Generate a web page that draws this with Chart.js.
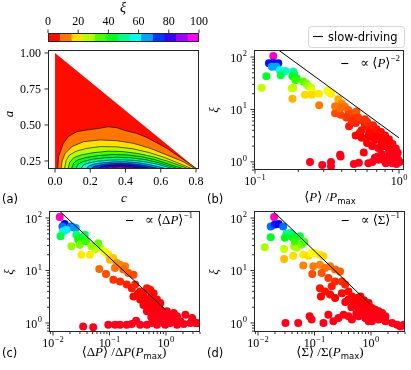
<!DOCTYPE html>
<html><head><meta charset="utf-8">
<script src="https://cdn.jsdelivr.net/npm/chart.js@4/dist/chart.umd.min.js"></script>
<style>
html,body{margin:0;padding:0;background:#fff;}
#wrap{position:relative;width:411px;height:370px;overflow:hidden;background:#fff;}
#wrap canvas{position:absolute;left:0;top:0;}
</style></head><body>
<div id="wrap">
<canvas id="cA" width="411" height="370"></canvas>
<canvas id="cBar" width="411" height="370"></canvas>
<canvas id="cB" width="411" height="370"></canvas>
<canvas id="cC" width="411" height="370"></canvas>
<canvas id="cD" width="411" height="370"></canvas>
</div>
<script>
// ---------------- data ----------------
const xiLevels = [0,7.7,15.4,23.1,30.8,38.5,46.2,53.8,61.5,69.2,76.9,84.6,92.3,100];
const cbarTicks = [0,20,40,60,80,100];
const aXTicks = [0,0.2,0.4,0.6,0.8];
const aXLabels = ['0.0','0.2','0.4','0.6','0.8'];
const aYTicks = [0.25,0.5,0.75,1.0];
const aYLabels = ['0.25','0.50','0.75','1.00'];
const domainEdge = [[0,1.0],[0.8,0.2]];
const contourCurves = [
 [[.015,.2],[.02,.28],[.047,.373],[.076,.42],[.123,.453],[.18,.465],[.255,.477],[.30,.488],[.35,.481],[.407,.458],[.463,.442],[.52,.414],[.577,.377],[.634,.338],[.69,.292],[.747,.245],[.80,.2]],
 [[.035,.2],[.04,.25],[.057,.303],[.095,.349],[.161,.384],[.255,.396],[.35,.391],[.444,.373],[.539,.338],[.634,.292],[.728,.245],[.79,.2]],
 [[.055,.2],[.062,.25],[.08,.29],[.12,.318],[.18,.338],[.26,.35],[.35,.348],[.44,.335],[.53,.31],[.62,.275],[.70,.235],[.77,.2]],
 [[.075,.2],[.083,.24],[.105,.272],[.15,.293],[.22,.308],[.30,.318],[.38,.316],[.47,.302],[.56,.278],[.64,.248],[.70,.222],[.75,.2]],
 [[.095,.2],[.105,.235],[.13,.258],[.18,.275],[.25,.288],[.33,.295],[.41,.292],[.49,.28],[.57,.258],[.64,.23],[.72,.2]],
 [[.12,.2],[.13,.228],[.16,.246],[.21,.262],[.28,.272],[.35,.276],[.43,.272],[.51,.26],[.58,.24],[.64,.218],[.69,.2]],
 [[.15,.2],[.16,.222],[.19,.236],[.24,.248],[.31,.256],[.38,.258],[.45,.254],[.52,.243],[.58,.228],[.66,.2]],
 [[.18,.2],[.19,.216],[.22,.228],[.27,.238],[.33,.244],[.40,.245],[.47,.238],[.54,.224],[.62,.2]],
 [[.21,.2],[.22,.212],[.26,.223],[.31,.231],[.37,.234],[.43,.231],[.50,.22],[.58,.2]],
 [[.25,.2],[.26,.21],[.30,.218],[.35,.224],[.41,.222],[.47,.212],[.53,.2]],
 [[.29,.2],[.30,.207],[.34,.213],[.39,.214],[.44,.207],[.48,.2]],
 [[.32,.2],[.335,.205],[.37,.208],[.40,.205],[.43,.2]]
];
const logMajor = [0.01,0.1,1,10,100];
const logExp = ['−2','−1','0','1','2'];
const logMinor = [0.007,0.008,0.009,0.02,0.03,0.04,0.05,0.06,0.07,0.08,0.09,0.2,0.3,0.4,0.5,0.6,0.7,0.8,0.9,2,3,4,5,6,7,8,9,20,30,40,50,60,70,80,90];
// panel (b): [<P>/Pmax, xi]
const panelB = [[0.134,104],[0.125,76],[0.134,78],[0.145,76],[0.131,65],[0.141,65],[0.149,56],[0.163,54],[0.120,43],[0.151,45],
[0.184,53],[0.187,48],[0.182,43],[0.195,39],[0.191,36],[0.180,25],[0.184,26],[0.111,26],[0.216,34],[0.228,31],
[0.234,28],[0.245,26],[0.248,23],[0.222,19],[0.248,19],[0.278,20],[0.319,23],[0.337,20],[0.327,21],[0.182,16],
[0.279,12],[0.379,15.6],[0.400,13.1],[0.421,11.3],[0.390,11.0],[0.444,9.8],[0.481,8.5],[0.506,9.1],[0.393,7.9],[0.444,7.9],
[0.494,6.8],[0.548,6.3],[0.581,5.5],[0.613,4.7],[0.646,4.4],[0.681,3.8],[0.718,3.5],[0.535,3.6],[0.613,3.1],[0.581,5.1],
[0.757,3.0],[0.799,2.6],[0.840,2.25],[0.889,1.96],[0.935,1.46],[0.960,1.26],[0.989,1.09],[1.01,1.0],[0.865,1.46],[0.82,1.26],
[0.757,1.96],[0.718,1.83],[0.681,2.6],[0.646,3.0],
[0.66,5.0],[0.70,4.2],[0.75,3.7],[0.80,3.2],[0.85,2.7],[0.90,2.2],[0.95,1.8],[0.98,1.5],[0.70,2.9],[0.75,2.5],
[0.80,2.0],[0.85,1.7],[0.90,1.5],[0.95,1.2],[0.92,1.05],[0.85,1.1],[0.78,1.1],[0.72,1.1],[0.68,1.2],[0.60,2.3],
[0.65,2.0],[0.55,2.9],[0.50,3.2],[0.45,4.8],[0.50,5.5],[0.55,4.0],[0.62,3.5],[0.60,5.8],[0.52,7.0],[0.58,6.5],
[0.47,6.0],[0.43,7.0],[0.36,8.5],[0.39,10.5],[0.36,11.5],
[0.241,1.0],[0.293,0.87],[0.337,1.0],[0.337,0.82],[0.390,1.36],[0.393,1.26],[0.486,0.91],[0.526,0.96],[0.569,1.51],[0.613,0.94],
[0.653,1.0],[0.711,1.26],[0.757,1.42],[0.809,0.94],[0.872,1.26],[0.90,0.94],[0.96,0.91]];
// panel (c): [<dP>/dP(Pmax), xi]
const panelC = [[0.01315,104],[0.0161,77],[0.0206,69],[0.0254,64.5],[0.0233,66],[0.0147,69],[0.0151,56],[0.0173,60],[0.0136,45],[0.026,48],
[0.0319,42],[0.0279,39],[0.0366,48],[0.0212,29],[0.0298,31],[0.0382,36],[0.0319,20],[0.045,20],[0.0552,25],[0.0481,29],
[0.0677,27],[0.0633,33],[0.0891,21.5],[0.0953,20],[0.0798,23],[0.0659,10.7],[0.0867,8.6],[0.102,16],[0.117,17.3],[0.134,13.9],
[0.154,12.9],[0.189,12],[0.176,10.4],[0.125,11.2],[0.216,9.0],[0.266,8.3],[0.117,6.7],[0.154,6.2],[0.202,5.4],[0.248,4.6],
[0.284,5.4],[0.349,4.0],[0.40,3.5],[0.459,4.6],[0.526,4.3],[0.603,3.7],[0.691,2.8],[0.792,2.4],[0.40,2.2],[0.349,2.8],
[0.266,3.2],[0.491,2.8],[0.563,2.2],[0.645,1.93],[0.792,1.79],[0.908,1.55],[1.04,1.34],[0.459,1.67],[0.603,1.44],[0.74,1.34],
[0.908,1.24],[1.04,1.67],[1.19,1.24],[1.37,1.55],[1.57,1.34],[1.8,1.08],[2.21,1.44],[2.9,1.24],[3.56,1.0],[1.47,1.08],
[1.115,1.08],[0.792,1.08],[0.691,1.24],
[0.55,3.2],[0.65,2.5],[0.75,2.1],[0.6,1.8],[0.7,1.6],[0.85,1.4],[0.5,2.0],[0.45,2.5],[0.38,3.0],[0.32,3.6],[0.95,1.1],[0.8,1.2],[0.9,1.0],[0.55,1.3],
[0.0342,0.86],[0.0515,0.83],[0.0953,0.93],[0.125,0.93],[0.154,0.93],[0.202,0.93],[0.248,0.96],[0.296,1.11],[0.349,0.93],[0.459,0.93],
[0.563,1.0],[0.691,0.93],[0.972,0.93],[1.19,1.0],[1.57,0.93],[2.06,0.96],[2.71,1.0],[3.33,1.0]];
// panel (d): [<Sigma>/Sigma(Pmax), xi]
const panelD = [[0.0193,104],[0.0168,69],[0.0198,75],[0.0233,77],[0.0279,69],[0.0366,52],[0.0403,48],[0.0319,50],[0.0168,43],[0.0298,42],
[0.0403,43],[0.0552,45],[0.0132,27.6],[0.029,25.7],[0.0437,29],[0.0481,27],[0.0591,31],[0.045,36],[0.0659,35],[0.042,19.2],
[0.0633,20],[0.0777,19.2],[0.0891,21.5],[0.102,21.5],[0.125,20],[0.144,18.6],[0.029,16.6],[0.0633,12.4],[0.0953,12],[0.125,12.9],
[0.154,11.2],[0.189,12],[0.232,10.4],[0.284,9.6],[0.0915,8.6],[0.134,9.0],[0.176,7.2],[0.232,6.2],[0.305,6.2],[0.349,5.4],
[0.202,5.0],[0.125,4.6],[0.154,4.0],[0.13,3.2],[0.189,3.5],[0.232,3.0],[0.305,3.7],[0.40,4.0],[0.459,3.2],[0.563,3.0],
[0.645,2.6],[0.74,2.2],[0.908,2.4],[1.04,1.93],[1.19,1.79],[1.37,1.67],[1.57,1.55],[1.8,1.34],[0.603,1.67],[0.40,2.8],
[0.5,2.5],[0.6,2.0],[0.7,1.8],[0.8,1.9],[0.9,1.6],[0.55,1.5],[0.35,2.5],[0.45,2.0],[1.0,1.5],[1.2,1.3],[0.65,3.2],[0.75,2.7],
[0.0307,1.0],[0.0515,1.0],[0.082,1.34],[0.089,1.16],[0.144,1.0],[0.216,1.08],[0.176,1.44],[0.266,1.24],[0.326,1.44],[0.40,1.34],
[0.459,1.16],[0.603,1.34],[0.792,1.24],[0.908,1.08],[1.04,1.08],[1.37,1.16],[1.8,1.08],[2.37,1.0],[2.9,0.93],[3.33,0.86],
[3.82,0.93],[0.792,1.55],[0.908,1.34],[1.115,1.34]];
// slow-driving power-law guide lines (end points)
const slowB = [[0.146,135],[1.0,2.87]];
const slowC = [[0.0132,134],[1.0,1.75]];
const slowD = [[0.0185,135],[0.95,2.3]];

// ---------------- styling helpers ----------------
const SER = "'Liberation Serif','DejaVu Serif',serif";
const R = s => s + 'px ' + SER;
const I = s => 'italic ' + s + 'px ' + SER;
const S = s => s + "px 'DejaVu Sans',sans-serif";
const rainbowStops = [[0,1,0,0.16],[0.03,1,0,0],[0.215,1,1,0],[0.4,0,1,0],[0.586,0,1,1],[0.77,0,0,1],[0.954,1,0,1],[1,1,0,0.75]];
function cmap(v){
  const t = Math.max(0, Math.min(1, v/100));
  for (let i=1;i<rainbowStops.length;i++){
    const a=rainbowStops[i-1], b=rainbowStops[i];
    if (t<=b[0]) { const f=(t-a[0])/(b[0]-a[0]);
      return 'rgb('+[1,2,3].map(k=>Math.round(255*(a[k]+(b[k]-a[k])*f))).join(',')+')'; }
  }
  return 'rgb(255,0,191)';
}
const bandColor = i => cmap((xiLevels[i]+xiLevels[i+1])/2);
const toXY = arr => arr.map(p=>({x:p[0], y:p[1]}));

function rich(ctx, segs, x, y, align, rot){
  ctx.save(); ctx.translate(x,y); if (rot) ctx.rotate(rot);
  ctx.textAlign='left'; ctx.textBaseline='alphabetic'; ctx.fillStyle='#000';
  let w=0; segs.forEach(s=>{ctx.font=s[1]; s.w=ctx.measureText(s[0]).width; w+=s.w;});
  let sx = align==='center' ? -w/2 : align==='right' ? -w : 0;
  const start = sx;
  segs.forEach(s=>{ctx.font=s[1]; ctx.fillText(s[0], sx, s[2]||0); sx+=s.w;});
  ctx.restore();
  return x + start;
}
function pow10(ctx, exp, x, y, align){
  ctx.font=R(12); const w1=ctx.measureText('10').width;
  ctx.font=R(8.5); const w2=ctx.measureText(exp).width;
  const w=w1+w2+0.5;
  const sx = align==='center' ? x-w/2 : x-w;
  ctx.textAlign='left'; ctx.textBaseline='alphabetic'; ctx.fillStyle='#000';
  ctx.font=R(12); ctx.fillText('10', sx, y);
  ctx.font=R(8.5); ctx.fillText(exp, sx+w1+0.5, y-5.5);
}
function inRange(sc, v){ return v>=sc.min && v<=sc.max; }

function drawFrameTicks(chart, spec){
  const ctx=chart.ctx, ca=chart.chartArea, xs=chart.scales.x, ys=chart.scales.y;
  ctx.save();
  ctx.strokeStyle='#1a1a1a'; ctx.lineWidth=0.9;
  const B=ca.bottom, L=ca.left;
  ctx.beginPath();
  if (spec.log){
    logMinor.filter(v=>inRange(xs,v)).forEach(v=>{const p=xs.getPixelForValue(v); ctx.moveTo(p,B); ctx.lineTo(p,B+2);});
    logMinor.filter(v=>inRange(ys,v)).forEach(v=>{const p=ys.getPixelForValue(v); ctx.moveTo(L,p); ctx.lineTo(L-2,p);});
  }
  spec.xt.forEach(v=>{const p=xs.getPixelForValue(v); ctx.moveTo(p,B); ctx.lineTo(p,B+3.5);});
  spec.yt.forEach(v=>{const p=ys.getPixelForValue(v); ctx.moveTo(L,p); ctx.lineTo(L-3.5,p);});
  ctx.stroke();
  ctx.strokeStyle='#262626'; ctx.lineWidth=1;
  ctx.strokeRect(Math.round(ca.left)+0.5, Math.round(ca.top)+0.5, Math.round(ca.right-ca.left)-1, Math.round(ca.bottom-ca.top)-1);
  ctx.fillStyle='#000'; ctx.textBaseline='alphabetic';
  if (spec.log){
    spec.xt.forEach(v=>{ if(!inRange(xs,v)) return; pow10(ctx, logExp[logMajor.indexOf(v)], xs.getPixelForValue(v), B+15, 'center');});
    spec.yt.forEach(v=>{ if(!inRange(ys,v)) return; pow10(ctx, logExp[logMajor.indexOf(v)], L-7, ys.getPixelForValue(v)+4.5, 'right');});
  } else {
    ctx.font=R(12);
    ctx.textAlign='center'; spec.xt.forEach((v,i)=>ctx.fillText(spec.xl[i], xs.getPixelForValue(v), B+16));
    ctx.textAlign='right'; spec.yt.forEach((v,i)=>ctx.fillText(spec.yl[i], L-7, ys.getPixelForValue(v)+4));
  }
  ctx.restore();
}
function annot(ctx, segs, rightX, y){
  const start = rich(ctx, segs, rightX, y+4, 'right');
  ctx.save(); ctx.strokeStyle='#000'; ctx.lineWidth=1.1;
  ctx.beginPath(); ctx.moveTo(start-19, y+0.5); ctx.lineTo(start-12, y+0.5); ctx.stroke(); ctx.restore();
}

const base = {responsive:false, animation:false, events:[], plugins:{legend:{display:false}, tooltip:{enabled:false}}};
const pad = (l,r,t,b) => ({autoPadding:false, padding:{left:l,right:r,top:t,bottom:b}});

// ---------------- colorbar ----------------
new Chart(document.getElementById('cBar'), {
  type:'bar',
  data:{labels:['ξ'], datasets: xiLevels.slice(0,-1).map((lo,i)=>({data:[[lo, xiLevels[i+1]]], backgroundColor:bandColor(i), borderWidth:0, grouped:false, barPercentage:1, categoryPercentage:1}))},
  options:Object.assign({}, base, {indexAxis:'y', layout:pad(48,212,33,328),
    scales:{x:{type:'linear', min:0, max:100, display:false}, y:{display:false}}}),
  plugins:[{id:'cbarAxis', afterDraw(chart){
    const ctx=chart.ctx, ca=chart.chartArea, xs=chart.scales.x;
    ctx.save(); ctx.strokeStyle='#1a1a1a'; ctx.lineWidth=0.9; ctx.beginPath();
    cbarTicks.forEach(v=>{const p=xs.getPixelForValue(v); ctx.moveTo(p,ca.top); ctx.lineTo(p,ca.top-3.5);});
    ctx.stroke();
    ctx.lineWidth=1; ctx.strokeStyle='#262626';
    ctx.strokeRect(Math.round(ca.left)+0.5, Math.round(ca.top)+0.5, Math.round(ca.right-ca.left)-1, Math.round(ca.bottom-ca.top)-1);
    ctx.fillStyle='#000'; ctx.font=R(12); ctx.textAlign='center';
    cbarTicks.forEach(v=>ctx.fillText(String(v), xs.getPixelForValue(v), ca.top-8));
    ctx.restore();
    rich(ctx, [['ξ', I(14)]], 123, 12, 'center');
  }}]
});

// ---------------- panel (a) ----------------
new Chart(document.getElementById('cA'), {
  type:'line',
  data:{datasets:[
    {data:toXY(domainEdge), fill:{value:0.2}, backgroundColor:bandColor(0), borderWidth:0, pointRadius:0, tension:0, order:100},
    ...contourCurves.map((cv,k)=>({data:toXY(cv), fill:{value:0.2}, backgroundColor:bandColor(k+1), borderColor:'#000', borderWidth:0.6, pointRadius:0, tension:0, order:50-k}))
  ]},
  options:Object.assign({}, base, {layout:pad(48,212,50,201),
    scales:{x:{type:'linear', min:-0.04, max:0.817, display:false}, y:{type:'linear', min:0.1944, max:1.0208, display:false}}}),
  plugins:[{id:'axA', afterDraw(chart){
    const ctx=chart.ctx;
    drawFrameTicks(chart, {xt:aXTicks, xl:aXLabels, yt:aYTicks, yl:aYLabels});
    rich(ctx, [['a', I(13)]], 13, 114, 'center', -Math.PI/2);
    rich(ctx, [['c', I(13)]], 124, 202, 'center');
    rich(ctx, [['(a)', S(11.5)]], 2, 203, 'left');
  }}]
});

// ---------------- log panels ----------------
function logPanel(id, pts, slow, xr, yr, padding, spec, drawExtra){
  new Chart(document.getElementById(id), {
    type:'scatter',
    data:{datasets:[
      {type:'line', data:toXY(slow), borderColor:'#000', borderWidth:1, pointRadius:0, fill:false, tension:0, order:0, clip:0},
      {data:toXY(pts), backgroundColor:pts.map(p=>cmap(p[1])), pointRadius:4, borderWidth:0, order:1, clip:0}
    ]},
    options:Object.assign({}, base, {layout:padding,
      scales:{x:{type:'logarithmic', min:xr[0], max:xr[1], display:false}, y:{type:'logarithmic', min:yr[0], max:yr[1], display:false}}}),
    plugins:[{id:'ax'+id, afterDraw(chart){ drawFrameTicks(chart, spec); drawExtra(chart.ctx); }}]
  });
}

logPanel('cB', panelB, slowB, [0.0984,1.083], [0.704,136], pad(254,7,50,200), {log:true, xt:[0.1,1], yt:[1,10,100]}, ctx=>{
  rich(ctx, [['ξ', I(13)]], 218, 110, 'center', -Math.PI/2);
  rich(ctx, [['⟨',R(13)],['P',I(13)],['⟩',R(13)],[' /',R(13)],['P',I(13)],['max',S(8.5),2.5]], 330, 201, 'center');
  rich(ctx, [['(b)', S(11.5)]], 207, 203, 'left');
  annot(ctx, [['∝ ',R(13)],['⟨',R(13)],['P',I(13)],['⟩',R(13)],['−2',R(9),-6]], 400, 63);
  // legend box
  ctx.save();
  ctx.fillStyle='#fff'; ctx.strokeStyle='#d6d6d6'; ctx.lineWidth=1;
  ctx.beginPath(); if (ctx.roundRect) ctx.roundRect(308.5,26.5,96,21,3); else ctx.rect(308.5,26.5,96,21);
  ctx.fill(); ctx.stroke();
  ctx.strokeStyle='#000'; ctx.lineWidth=1.1; ctx.beginPath(); ctx.moveTo(313,36.5); ctx.lineTo(323,36.5); ctx.stroke();
  ctx.restore();
  rich(ctx, [['slow-driving', S(11.5)]], 328, 40.5, 'left');
});

logPanel('cC', panelC, slowC, [0.0085,4.0], [0.674,136], pad(49,211,211,38), {log:true, xt:[0.01,0.1,1], yt:[1,10,100]}, ctx=>{
  rich(ctx, [['ξ', I(13)]], 13, 272, 'center', -Math.PI/2);
  rich(ctx, [['⟨',R(13)],['Δ',R(13)],['P',I(13)],['⟩',R(13)],[' /',R(13)],['Δ',R(13)],['P',I(13)],['(',R(13)],['P',I(13)],['max',S(8.5),2.5],[')',R(13)]], 124, 356, 'center');
  rich(ctx, [['(c)', S(11.5)]], 2, 357, 'left');
  annot(ctx, [['∝ ',R(13)],['⟨',R(13)],['Δ',R(13)],['P',I(13)],['⟩',R(13)],['−1',R(9),-6]], 193, 220);
});

logPanel('cD', panelD, slowD, [0.0085,4.0], [0.674,136], pad(254,6,211,38), {log:true, xt:[0.01,0.1,1], yt:[1,10,100]}, ctx=>{
  rich(ctx, [['ξ', I(13)]], 218, 272, 'center', -Math.PI/2);
  rich(ctx, [['⟨',R(13)],['Σ',R(13)],['⟩',R(13)],[' /',R(13)],['Σ',R(13)],['(',R(13)],['P',I(13)],['max',S(8.5),2.5],[')',R(13)]], 330, 356, 'center');
  rich(ctx, [['(d)', S(11.5)]], 207, 357, 'left');
  annot(ctx, [['∝ ',R(13)],['⟨',R(13)],['Σ',R(13)],['⟩',R(13)],['−1',R(9),-6]], 400, 220);
});
</script>
</body></html>
